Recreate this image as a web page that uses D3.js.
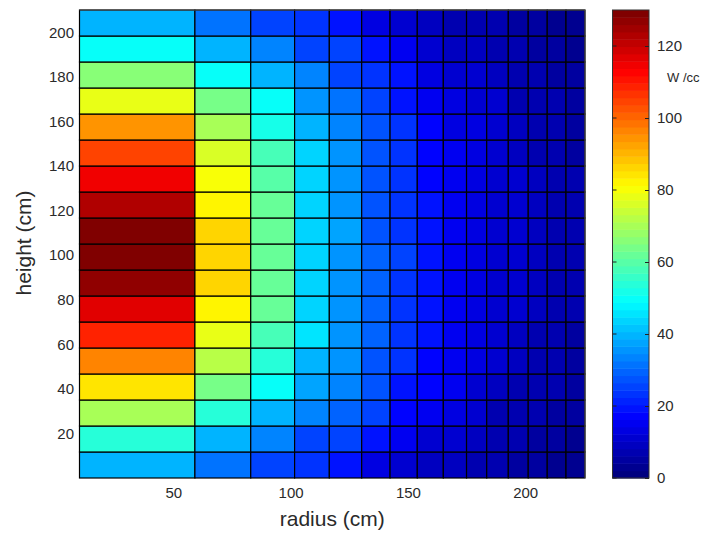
<!DOCTYPE html>
<html><head><meta charset="utf-8">
<script src="https://cdn.jsdelivr.net/npm/d3@7"></script>
<style>
body{margin:0;background:#fff}
svg{display:block}
text{font-family:"Liberation Sans",Arial,Helvetica,sans-serif;fill:#2a2a2a}
</style>
</head><body>
<svg id="chart" width="709" height="535"></svg>
<script>
// ---- data (W/cc) ----
// radial ring boundaries (cm)
const radiusEdges = [10, 59.2, 83, 101.7, 116.5, 130.3, 142.4, 154, 165.1, 175, 183.6, 192.8, 201.3, 209.4, 217.4, 225.5];
// axial slice boundaries (cm), bottom to top
const heightEdges = [0, 11.67, 23.33, 35, 46.67, 58.33, 70, 81.67, 93.33, 105, 116.67, 128.33, 140, 151.67, 163.33, 175, 186.67, 198.33, 210];
// power density per ring, one value per axial slice, bottom to top
const ring01 = [39, 53, 70, 84, 95.5, 108, 117, 126, 129, 129, 123.5, 114, 104, 93.5, 79, 65, 49.5, 39];
const ring02 = [30.5, 39, 53, 63, 73, 79, 82, 86, 87, 86, 83, 81, 75.5, 70, 63, 49.5, 39, 30.5];
const ring03 = [24.4, 32.5, 39, 48.8, 54.6, 58.8, 61, 61, 61, 61, 61, 60, 58.8, 52.8, 48.8, 39, 32.5, 24.4];
const ring04 = [22.4, 26.4, 32.5, 36.6, 40.6, 45.9, 42.7, 43.9, 43.9, 43.9, 43.9, 42.7, 42.7, 39, 34.6, 32.5, 26.4, 22.4];
const ring05 = [18.3, 24.4, 29.5, 32.5, 34.6, 35.7, 35.7, 35.7, 35.7, 36.6, 35.7, 34.6, 35.7, 33.5, 30.5, 26.4, 24.4, 18.3];
const ring06 = [13.3, 18.3, 24.4, 27.3, 28.4, 29.5, 29.5, 29.5, 29.5, 28.4, 28.4, 27.3, 28.4, 27.3, 24.4, 22.4, 18.3, 13.3];
const ring07 = [11.3, 14.3, 17, 20.3, 22.4, 23.4, 23.4, 23.4, 24.4, 23.4, 23.4, 22.4, 22.4, 22.4, 20.3, 18.3, 14.3, 11.3];
const ring08 = [9.1, 11.3, 14.3, 16.3, 17, 18.3, 18.3, 18.3, 18.3, 18.3, 18.3, 17, 17, 16.3, 15.3, 13.3, 11.3, 9.1];
const ring09 = [9.1, 11.3, 13.3, 14.3, 16, 16, 15.3, 15.3, 15.3, 15.3, 15.3, 14.3, 16, 13.3, 12.2, 11.3, 9.1, 8.1];
const ring10 = [7.2, 9.1, 10.2, 11.3, 12.2, 12.2, 13.3, 13.3, 13.3, 13.3, 13.3, 13.3, 13.3, 12.2, 11.3, 10.2, 9.1, 7.2];
const ring11 = [6.1, 7.2, 8.1, 9.1, 10.2, 10.2, 11.3, 11.3, 11.3, 11.3, 11.3, 11.3, 11.3, 10.2, 10.2, 9.1, 7.2, 6.1];
const ring12 = [5.2, 6.1, 7.2, 8.1, 9.1, 9.1, 10.2, 10.2, 10.2, 10.2, 10.2, 10.2, 9.1, 9.1, 8.1, 7.2, 6.1, 5.2];
const ring13 = [4.1, 5.2, 6.1, 7.2, 8.1, 8.1, 9.1, 9.1, 9.1, 9.1, 9.1, 9.1, 8.1, 8.1, 7.2, 6.1, 5.2, 4.1];
const ring14 = [3.2, 4.1, 5.2, 6.1, 6.1, 7.2, 7.7, 7.7, 7.7, 7.7, 7.7, 7.7, 7.2, 6.1, 6.1, 5.2, 4.1, 3.2];
const ring15 = [2.1, 3.2, 4.1, 4.1, 5.2, 5.2, 6.1, 6.1, 6.1, 6.1, 6.1, 6.1, 5.2, 5.2, 4.1, 4.1, 3.2, 2.1];
const rings = [ring01, ring02, ring03, ring04, ring05, ring06, ring07, ring08, ring09, ring10, ring11, ring12, ring13, ring14, ring15];

const xTicks = [50, 100, 150, 200];
const yTicks = [20, 40, 60, 80, 100, 120, 140, 160, 180, 200];
const cTicks = [0, 20, 40, 60, 80, 100, 120];
const colorMin = 0, colorMax = 130;
const unitLabel = "W /cc";
const xLabel = "radius (cm)";
const yLabel = "height (cm)";

// ---- jet colormap, 64 levels ----
function jet(t) {
  const c = v => Math.max(0, Math.min(1, v));
  const r = c(1.5 - Math.abs(4 * t - 3));
  const g = c(1.5 - Math.abs(4 * t - 2));
  const b = c(1.5 - Math.abs(4 * t - 1));
  return d3.rgb(r * 255, g * 255, b * 255).formatHex();
}
const NC = 64;
const jet64 = d3.range(NC).map(i => jet(i / (NC - 1)));
const color = d3.scaleQuantize().domain([colorMin, colorMax]).range(jet64);

// ---- layout ----
const svg = d3.select("#chart");
const L = 79.5, R = 585, T = 10, B = 478;
const x = d3.scaleLinear().domain([radiusEdges[0], radiusEdges[radiusEdges.length - 1]]).range([L, R]);
const y = d3.scaleLinear().domain([heightEdges[0], heightEdges[heightEdges.length - 1]]).range([B, T]);

const cells = [];
rings.forEach((ring, i) => ring.forEach((v, j) => cells.push({i, j, v})));

svg.append("g").selectAll("rect").data(cells).join("rect")
  .attr("x", d => x(radiusEdges[d.i]))
  .attr("width", d => x(radiusEdges[d.i + 1]) - x(radiusEdges[d.i]))
  .attr("y", d => y(heightEdges[d.j + 1]))
  .attr("height", d => y(heightEdges[d.j]) - y(heightEdges[d.j + 1]))
  .attr("fill", d => color(d.v))
  .attr("stroke", "#000")
  .attr("stroke-width", 1.2);

// axis frame (top / right)
svg.append("path").attr("d", `M${L},${T}H${R}V${B}`).attr("fill", "none").attr("stroke", "#555").attr("stroke-width", 1);

const fs = 15;
const xa = svg.append("g").attr("transform", `translate(0,${B})`)
  .call(d3.axisBottom(x).tickValues(xTicks).tickSize(0).tickPadding(9).tickFormat(d3.format("d")));
xa.select(".domain").remove();
xa.selectAll("text").attr("font-size", fs).style("font-family", "inherit");

const ya = svg.append("g").attr("transform", `translate(${L},0)`)
  .call(d3.axisLeft(y).tickValues(yTicks).tickSize(0).tickPadding(5.5).tickFormat(d3.format("d")));
ya.select(".domain").remove();
ya.selectAll("text").attr("font-size", fs).style("font-family", "inherit");

svg.append("text").attr("x", (L + R) / 2).attr("y", 526).attr("text-anchor", "middle")
  .attr("font-size", 21).text(xLabel);
svg.append("text").attr("transform", `translate(31,243) rotate(-90)`).attr("text-anchor", "middle")
  .attr("font-size", 21).text(yLabel);

// ---- colorbar ----
const CL = 612.5, CR = 649, CT = 10, CB = 478;
const cy = d3.scaleLinear().domain([colorMin, colorMax]).range([CB, CT]);
const step = (colorMax - colorMin) / NC;
svg.append("g").selectAll("rect").data(jet64).join("rect")
  .attr("x", CL).attr("width", CR - CL)
  .attr("y", (d, k) => cy(colorMin + (k + 1) * step))
  .attr("height", (d, k) => cy(colorMin + k * step) - cy(colorMin + (k + 1) * step) + 0.5)
  .attr("fill", d => d);
svg.append("rect").attr("x", CL).attr("y", CT).attr("width", CR - CL).attr("height", CB - CT)
  .attr("fill", "none").attr("stroke", "#333").attr("stroke-width", 1);
const ca = svg.append("g").attr("transform", `translate(${CR},0)`)
  .call(d3.axisRight(cy).tickValues(cTicks).tickSize(-4).tickPadding(8).tickFormat(d3.format("d")));
ca.select(".domain").remove();
ca.selectAll("line").attr("stroke", "#222");
ca.selectAll("text").attr("font-size", fs).style("font-family", "inherit");
svg.append("g").selectAll("line").data(cTicks).join("line")
  .attr("x1", CL).attr("x2", CL + 4).attr("y1", d => cy(d)).attr("y2", d => cy(d)).attr("stroke", "#222");
svg.append("text").attr("x", 667).attr("y", 82).attr("font-size", 13).text(unitLabel);
</script>
</body></html>
